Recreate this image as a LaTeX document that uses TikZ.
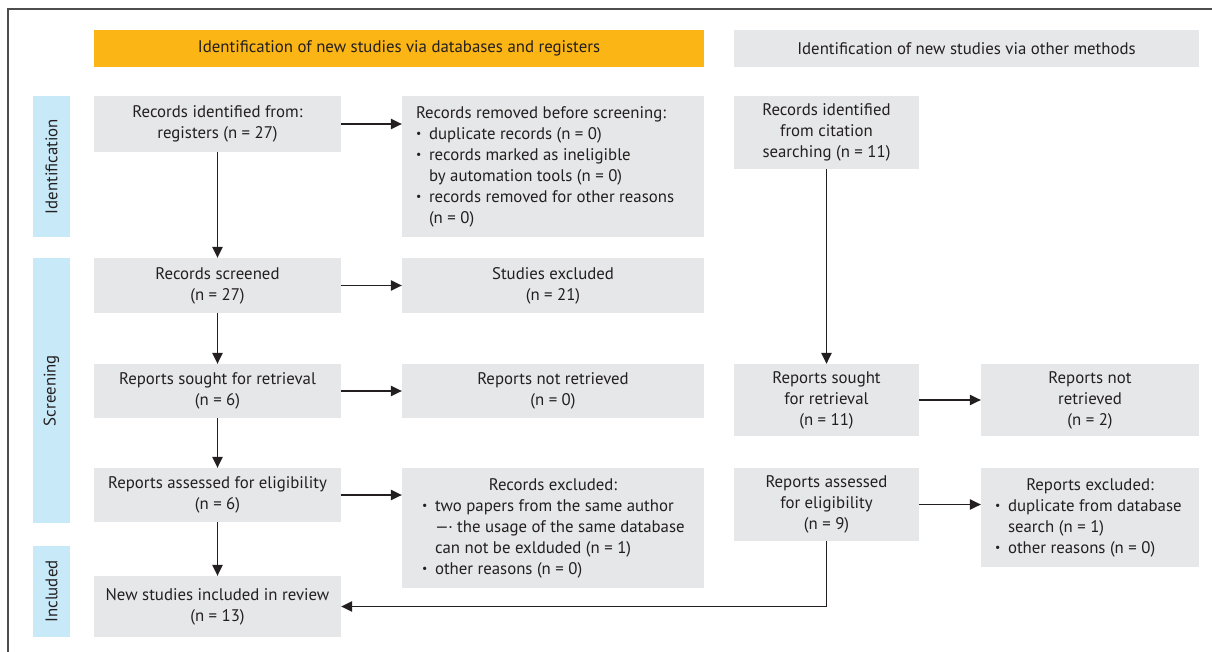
\documentclass[tikz,border=0pt]{standalone}
\usepackage{fontspec}
\usepackage{graphicx}
\setmainfont{PT Sans}
\usetikzlibrary{arrows.meta}
\definecolor{orangeh}{HTML}{FBB515}
\definecolor{grayb}{HTML}{E6E7E8}
\definecolor{blueb}{HTML}{C8E9F8}
\definecolor{txt}{HTML}{231F20}
\definecolor{framec}{HTML}{4D4D4D}
\newcommand{\bulsym}{\raisebox{1.5pt}{\scalebox{0.7}{\textbullet}}}
\newcommand{\li}[1]{\par\noindent\makebox[13pt][l]{\bulsym}\mbox{#1}}
\newcommand{\lc}[1]{\par\noindent\hspace*{13pt}\mbox{#1}}
\newcommand{\lt}[1]{\par\noindent\makebox[\linewidth]{#1}}
\newcommand{\ltl}[1]{\par\noindent\mbox{#1}}
\begin{document}
\begin{tikzpicture}[x=1pt,y=-1pt,
  every node/.style={font=\fontsize{16.8}{21}\selectfont, text=txt, inner sep=0pt},
  box/.style={fill=grayb, align=center},
  hdr/.style={align=center},
  side/.style={fill=blueb, rotate=90},
  conn/.style={draw=txt, line width=1.2pt, -{Triangle[length=11pt,width=10.5pt]}},
  plain/.style={draw=txt, line width=1.2pt}]
\useasboundingbox (0,0) rectangle (1212,652);
\draw[framec, line width=1.5pt] (8,652) -- (8,9) -- (1212,9);

% headers
\node[hdr, fill=orangeh, minimum width=610pt, minimum height=37pt] (h1) at (399,48.5) {Identification of new studies via databases and registers};
\node[hdr, fill=grayb, minimum width=465pt, minimum height=37pt] (h2) at (966.5,48.5) {Identification of new studies via other methods};

% side labels
\node[side, minimum width=141pt, minimum height=37pt] (s1) at (51.5,166.5) {Identification};
\node[side, minimum width=265pt, minimum height=37pt] (s2) at (51.5,390.5) {Screening};
\node[side, minimum width=91pt, minimum height=37pt] (s3) at (51.5,591.5) {Included};

% left column
\node[box, minimum width=247pt, minimum height=56pt] (A) at (217.5,124) {Records identified from:\\ registers (n = 27)};
\node[box, minimum width=247pt, minimum height=55pt] (D) at (217.5,285.5) {Records screened\\ (n = 27)};
\node[box, minimum width=247pt, minimum height=54pt] (F) at (217.5,391) {Reports sought for retrieval\\ (n = 6)};
\node[box, minimum width=247pt, minimum height=54pt] (J) at (217.5,495) {Reports assessed for eligibility\\ (n = 6)};
\node[box, minimum width=247pt, minimum height=61pt] (N) at (217.5,606.5) {New studies included in review\\ (n = 13)};

% middle column
\node[box, minimum width=302pt, minimum height=141pt] (B) at (553,166.5) {\begin{minipage}{274pt}
\ltl{Records removed before screening:}
\li{duplicate records (n = 0)}
\li{records marked as ineligible}
\lc{by automation tools (n = 0)}
\li{records removed for other reasons}
\lc{(n = 0)}
\end{minipage}};
\node[box, minimum width=302pt, minimum height=55pt] (E) at (553,285.5) {Studies excluded\\ (n = 21)};
\node[box, minimum width=302pt, minimum height=54pt] (G) at (553,391) {Reports not retrieved\\ (n = 0)};
\node[box, minimum width=302pt, minimum height=120pt] (K) at (553,528) {\begin{minipage}{262pt}
\lt{Records excluded:}
\li{two papers from the same author}
\lc{—\kern-0.5pt· the usage of the same database}
\lc{can not be exlduded (n = 1)}
\li{other reasons (n = 0)}
\end{minipage}};

% right columns
\node[box, minimum width=185pt, minimum height=73pt] (C) at (826.5,132.5) {Records identified\\ from citation\\ searching (n = 11)};
\node[box, minimum width=185pt, minimum height=72pt] (H) at (826.5,400) {Reports sought\\ for retrieval\\ (n = 11)};
\node[box, minimum width=218pt, minimum height=72pt] (I) at (1090,400) {Reports not\\ retrieved\\ (n = 2)};
\node[box, minimum width=185pt, minimum height=73pt] (L) at (826.5,504.5) {Reports assessed\\ for eligibility\\ (n = 9)};
\node[box, minimum width=218pt, minimum height=99pt] (M) at (1090,517.5) {\begin{minipage}{190pt}
\lt{Reports excluded:}
\li{duplicate from database}
\lc{search (n = 1)}
\li{other reasons (n = 0)}
\end{minipage}};

% connectors
\draw[conn] (A.east) -- (A.east -| B.west);
\draw[conn] (A.south) -- (D.north);
\draw[conn] (D.east) -- (E.west);
\draw[conn] (D.south) -- (F.north);
\draw[conn] (F.east) -- (G.west);
\draw[conn] (F.south) -- (J.north);
\draw[conn] (J.east) -- (J.east -| K.west);
\draw[conn] (J.south) -- (N.north);
\draw[conn] (C.south) -- (H.north);
\draw[conn] (H.east) -- (I.west);
\draw[conn] (L.east) -- (L.east -| M.west);
\draw[conn] (L.south) |- (N.east);
\end{tikzpicture}
\end{document}
